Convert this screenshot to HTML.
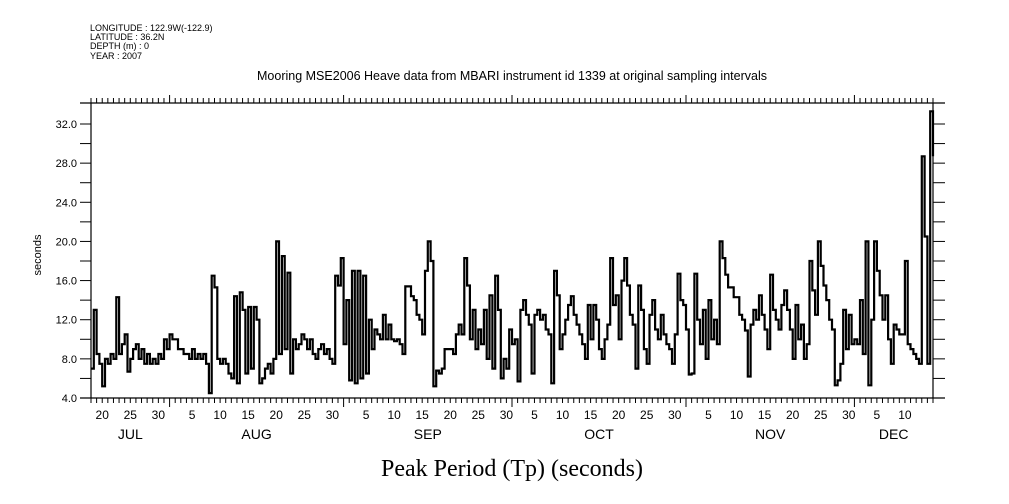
<!DOCTYPE html>
<html><head><meta charset="utf-8"><style>
html,body{margin:0;padding:0;background:#fff;}
svg{display:block;}
text{font-family:"Liberation Sans",sans-serif;fill:#000;}
</style></head><body>
<svg id="chart" width="1009" height="504" viewBox="0 0 1009 504">
<g font-size="9">
<text x="90" y="31">LONGITUDE : 122.9W(-122.9)</text>
<text x="90" y="40">LATITUDE : 36.2N</text>
<text x="90" y="49">DEPTH (m) : 0</text>
<text x="90" y="59">YEAR : 2007</text>
</g>
<text x="512" y="80" font-size="12.5" text-anchor="middle">Mooring MSE2006 Heave data from MBARI instrument id 1339 at original sampling intervals</text>
<text x="512" y="476" font-size="24" text-anchor="middle" style="font-family:'Liberation Serif',serif">Peak Period (Tp) (seconds)</text>
<text transform="translate(41,255) rotate(-90)" font-size="11" text-anchor="middle">seconds</text>
<g id="axes"></g>
<g id="series"></g>
</svg>
<script>
const yTicks=[4,8,12,16,20,24,28,32];
const yTickLabels=["4.0","8.0","12.0","16.0","20.0","24.0","28.0","32.0"];
const monthNames=["JUL","AUG","SEP","OCT","NOV","DEC"];
const monthStartDay=[-17,14,45,75,106,136];
const monthLength=[31,31,30,31,30,31];
// peak period values at half-day steps from day 0 (Jul 18)
const values=[
7.0,13.0, 8.5,7.5, 5.2,8.0, 7.5,8.5, 8.0,14.3, 8.5,9.5, 10.5,6.7, 8.0,9.0, 9.5,8.0, 9.0,7.5,
8.5,7.5, 8.0,7.5, 8.5,8.0, 10.0,9.0, 10.5,10.0, 10.0,9.0, 9.0,8.5, 8.5,8.0, 9.0,8.0, 8.5,8.0,
8.5,7.5, 4.5,16.5, 15.3,8.0, 7.5,8.0, 7.5,6.5, 6.0,14.4, 5.5,14.8, 13.0,6.5, 13.3,7.0, 13.3,12.0,
5.5,6.0, 7.0,7.5, 6.5,8.0, 20.0,8.5, 18.5,9.0, 16.8,6.5, 10.0,9.0, 9.5,10.5, 10.0,9.0, 10.0,8.5,
8.0,9.0, 9.5,8.5, 9.0,8.0, 7.5,16.5, 15.5,18.3, 9.5,14.0, 5.8,17.0, 5.5,17.0, 6.0,16.5, 6.5,12.0,
9.0,11.0, 10.5,10.0, 12.5,10.0, 11.5,10.0, 9.8,10.0, 9.5,8.5, 15.4,15.4, 14.4,14.0, 12.5,12.0, 10.5,17.0,
20.0,18.0, 5.2,6.8, 6.5,7.0, 9.0,9.0, 9.0,8.5, 10.5,11.5, 10.5,18.3, 15.5,10.0, 13.0,9.0, 11.0,9.5,
13.0,8.0, 14.5,7.0, 16.5,13.0, 6.0,8.0, 7.0,11.0, 9.5,10.0, 5.7,13.0, 14.0,12.5, 11.5,6.5, 12.5,13.0,
12.0,12.5, 11.0,10.5, 5.5,17.0, 14.5,9.0, 10.5,12.0, 13.5,14.4, 12.5,11.5, 10.5,9.5, 8.0,13.5, 10.0,13.5,
12.0,9.0, 8.0,10.0, 11.5,18.3, 13.5,14.5, 10.0,16.0, 18.3,15.5, 12.5,11.5, 7.0,15.5, 13.0,9.0, 7.5,12.5,
14.0,11.0, 10.0,12.5, 10.5,9.5, 9.0,7.5, 10.5,16.7, 14.0,13.5, 11.0,6.4, 6.5,16.7, 12.0,9.5, 13.0,8.0,
14.0,10.0, 12.0,9.5, 20.0,18.3, 16.6,15.3, 15.3,14.3, 14.3,12.5, 12.0,10.9, 6.2,11.5, 13.0,12.0, 14.5,12.5,
11.0,9.0, 16.6,13.0, 12.0,11.0, 13.5,15.0, 13.0,11.0, 8.0,13.5, 10.0,11.5, 8.0,9.5, 18.0,15.0, 12.5,20.0,
17.5,15.5, 14.0,12.0, 11.0,5.3, 5.8,7.5, 13.0,9.0, 12.5,9.5, 10.0,9.5, 14.0,8.5, 20.0,5.3, 12.0,20.0,
17.0,14.5, 12.0,14.5, 10.0,7.5, 11.5,11.0, 10.5,10.5, 18.0,9.5, 9.0,8.5, 8.0,7.5, 28.7,20.5, 7.5,33.3,
28.7
];
const X0=91,X1=933,Y0=398,Y1=124,DAYS=150;
function xs(d){return X0+(X1-X0)*d/DAYS;}
function ys(v){return Y0-(v-4)*(Y0-Y1)/28;}
const NS="http://www.w3.org/2000/svg";
const axes=document.getElementById('axes');
function mk(tag,attrs,parent){const e=document.createElementNS(NS,tag);for(const k in attrs)e.setAttribute(k,attrs[k]);parent.appendChild(e);return e;}
let l;
l=mk('line',{x1:80,y1:103,x2:945,y2:103,stroke:'#000','stroke-width':1.2},axes);


l=mk('line',{x1:80,y1:398,x2:945,y2:398,stroke:'#000','stroke-width':1.2},axes);


l=mk('line',{x1:91,y1:103,x2:91,y2:398,stroke:'#000','stroke-width':1.2},axes);


l=mk('line',{x1:933,y1:103,x2:933,y2:398,stroke:'#000','stroke-width':1.2},axes);


for(let v=4;v<=32;v+=2){
  const y=ys(v);
  l=mk('line',{x1:80,y1:y,x2:91,y2:y,stroke:'#000'},axes);
  
  
  l=mk('line',{x1:933,y1:y,x2:945,y2:y,stroke:'#000'},axes);
  
  
}
yTicks.forEach((v,i)=>{
  const t=mk('text',{x:77,y:ys(v)+4,'font-size':11,'text-anchor':'end'},axes);
  t.textContent=yTickLabels[i];
  
  
});
for(let m=0;m<monthNames.length;m++){
  for(let d=1;d<=monthLength[m];d++){
    const day=monthStartDay[m]+d-1;
    if(day<0||day>DAYS)continue;
    const x=xs(day);
    const major=d===1;
    l=mk('line',{x1:x,y1:398,x2:x,y2:major?407:403,stroke:'#000'},axes);
    
    
    l=mk('line',{x1:x,y1:103,x2:x,y2:major?95:98,stroke:'#000'},axes);
    
    
    if(d%5===0&&d<=30&&day<DAYS-2){
      const t=mk('text',{x:x,y:419,'font-size':12,'text-anchor':'middle'},axes);
      t.textContent=String(d);
      
      
    }
  }
  const s=Math.max(0,monthStartDay[m]), e=Math.min(DAYS,monthStartDay[m]+monthLength[m]);
  const t=mk('text',{x:xs((s+e)/2),y:439,'font-size':14,'text-anchor':'middle'},axes);
  t.textContent=monthNames[m];
  
  
}
// step-style series
let pts=[];
values.forEach((v,i)=>{
  const xa=xs(i*0.5), xb=xs(Math.min(i*0.5+0.5,DAYS));
  pts.push(xa.toFixed(1)+','+ys(v).toFixed(1));
  pts.push(xb.toFixed(1)+','+ys(v).toFixed(1));
});
const pl=mk('polyline',{points:pts.join(' '),fill:'none',stroke:'#000','stroke-width':2.2,'stroke-linejoin':'miter'},document.getElementById('series'));


</script>
</body></html>
